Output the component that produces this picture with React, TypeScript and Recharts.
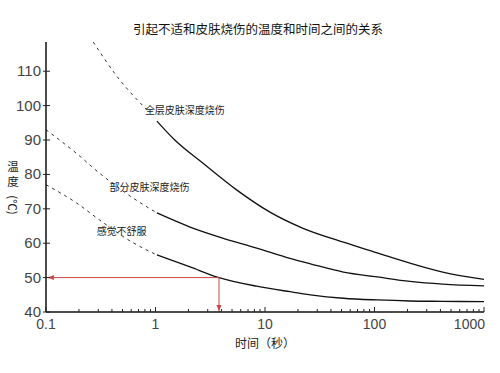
import { Label, Line, LineChart, ReferenceDot, XAxis, YAxis } from "recharts";

const title = "引起不适和皮肤烧伤的温度和时间之间的关系";
const xTitle = "时间（秒）";
const yTitleChars = ["温", "度"];
const yUnit = "(℃)";

const decadeTicks = [0.1, 1, 10, 100, 1000];
const minorSteps = [2, 3, 4, 5, 6, 7, 8, 9];
const tempTicks = [40, 50, 60, 70, 80, 90, 100, 110];

// 全层皮肤深度烧伤
const fullDashedTime = [0.27, 0.45, 0.84];
const fullDashedTemp = [118.5, 108.3, 98.7];
const fullTime = [1.03, 1.5, 2.7, 5.5, 11, 22, 52, 106, 211, 420, 1000];
const fullTemp = [95.5, 90, 83.3, 75.5, 69.1, 64.4, 60.3, 57.2, 54.2, 51.6, 49.5];

// 部分皮肤深度烧伤
const partDashedTime = [0.1, 0.19, 0.31, 0.62, 1.03];
const partDashedTemp = [93, 86.1, 80.3, 73.2, 68.8];
const partTime = [1.03, 2.07, 4.1, 8.4, 16.9, 26, 52, 106, 211, 420, 1000];
const partTemp = [68.8, 64.7, 61.5, 58.6, 55.6, 54.0, 51.6, 50.2, 48.9, 48.1, 47.6];

// 感觉不舒服
const painDashedTime = [0.1, 0.19, 0.31, 0.62, 1.03];
const painDashedTemp = [77, 71.7, 66.7, 60.2, 56.6];
const painTime = [1.03, 2.07, 3.8, 8.4, 16.9, 26, 52, 106, 211, 420, 1000];
const painTemp = [56.6, 53.1, 50.0, 47.5, 45.9, 45.0, 44.0, 43.5, 43.2, 43.1, 43.0];

// red marker: 50℃ -> ~4 s
const markTime = [0.104, 3.8, 3.8];
const markTemp = [50, 50, 40];

const toPoints = (ts: number[], vs: number[]) =>
  ts.map((t, i) => ({ t, v: vs[i] }));

const xTicks = [
  ...decadeTicks,
  ...decadeTicks
    .slice(0, -1)
    .flatMap((d) => minorSteps.map((s) => +(d * s).toFixed(1))),
].sort((a, b) => a - b);

const numFont = "'Liberation Sans', Arial, sans-serif";
const cjkFont = "'Noto Sans CJK SC', sans-serif";

const XTick = (props: any) => {
  const { x, y, payload } = props;
  const major = decadeTicks.includes(payload.value);
  const last = payload.value === 1000;
  return (
    <g>
      <line x1={x} x2={x} y1={y} y2={y - (major ? 5 : 3)} stroke="#222" strokeWidth={1} />
      {major && (
        <text
          x={last ? x + 1 : x}
          y={y + 17}
          textAnchor={last ? "end" : "middle"}
          fontSize={14}
          fontFamily={numFont}
          fill="#444"
        >
          {payload.value}
        </text>
      )}
    </g>
  );
};

const YTick = (props: any) => {
  const { x, y, payload } = props;
  return (
    <g>
      <line x1={x - 3} x2={x + 4} y1={y} y2={y} stroke="#222" strokeWidth={1} />
      <text
        x={x - 5}
        y={y + 5}
        textAnchor="end"
        fontSize={15}
        fontFamily={numFont}
        fill="#444"
      >
        {payload.value}
      </text>
    </g>
  );
};

const arrowDot = (props: any) => {
  const { cx, cy, index } = props;
  if (index === 0)
    return (
      <path key={index} d={`M${cx},${cy}L${cx + 6},${cy - 2.5}L${cx + 6},${cy + 2.5}Z`} fill="#cc4444" />
    );
  if (index === 2)
    return (
      <path key={index} d={`M${cx},${cy - 1}L${cx - 2.5},${cy - 7}L${cx + 2.5},${cy - 7}Z`} fill="#cc4444" />
    );
  return <g key={index} />;
};

const curveLabel = (value: string) => ({
  value,
  position: "right" as const,
  offset: 0,
  fontSize: 10,
  fill: "#222",
  fontFamily: cjkFont,
});

const yLabelStyle = {
  position: "absolute" as const,
  left: 0,
  width: 26,
  height: 14,
  textAlign: "center" as const,
  fontSize: 11.5,
  lineHeight: "14px",
  fontFamily: cjkFont,
  color: "#222",
};

export default function App() {
  return (
    <div
      style={{
        position: "absolute",
        left: 0,
        top: 0,
        width: 500,
        height: 373,
        background: "#fff",
      }}
    >
      <div
        style={{
          position: "absolute",
          top: 21,
          left: 8,
          width: 500,
          textAlign: "center",
          fontSize: 12.5,
          lineHeight: "16px",
          fontFamily: cjkFont,
          color: "#111",
        }}
      >
        {title}
      </div>

      {yTitleChars.map((c, i) => (
        <div key={c} style={{ ...yLabelStyle, top: 159 + i * 15 }}>
          {c}
        </div>
      ))}
      <div
        style={{
          ...yLabelStyle,
          top: 198,
          transform: "rotate(90deg)",
        }}
      >
        {yUnit}
      </div>

      <LineChart
        width={500}
        height={373}
        margin={{ top: 42, right: 16, bottom: 31, left: 6 }}
      >
        <XAxis
          dataKey="t"
          type="number"
          scale="log"
          domain={[0.1, 1000]}
          allowDataOverflow
          ticks={xTicks}
          interval={0}
          height={30}
          tickSize={0}
          tickMargin={0}
          tickLine={false}
          tick={<XTick />}
          axisLine={{ stroke: "#111", strokeWidth: 1.5 }}
        >
          <Label
            content={(p: any) => (
              <text
                x={p.viewBox.x + p.viewBox.width / 2}
                y={p.viewBox.y + 36}
                textAnchor="middle"
                fontSize={12}
                fontFamily={cjkFont}
                fill="#222"
              >
                {xTitle}
              </text>
            )}
          />
        </XAxis>

        <YAxis
          type="number"
          domain={[40, 118.5]}
          allowDataOverflow
          ticks={tempTicks}
          width={40}
          tickSize={0}
          tickMargin={0}
          tickLine={false}
          tick={<YTick />}
          axisLine={{ stroke: "#111", strokeWidth: 1.5 }}
        />

        <Line data={toPoints(fullDashedTime, fullDashedTemp)} dataKey="v" type="monotone" stroke="#333" strokeWidth={1} strokeDasharray="3 4" dot={false} isAnimationActive={false} />
        <Line data={toPoints(fullTime, fullTemp)} dataKey="v" type="monotone" stroke="#111" strokeWidth={1.3} dot={false} isAnimationActive={false} />

        <Line data={toPoints(partDashedTime, partDashedTemp)} dataKey="v" type="monotone" stroke="#333" strokeWidth={1} strokeDasharray="3 4" dot={false} isAnimationActive={false} />
        <Line data={toPoints(partTime, partTemp)} dataKey="v" type="monotone" stroke="#111" strokeWidth={1.3} dot={false} isAnimationActive={false} />

        <Line data={toPoints(painDashedTime, painDashedTemp)} dataKey="v" type="monotone" stroke="#333" strokeWidth={1} strokeDasharray="3 4" dot={false} isAnimationActive={false} />
        <Line data={toPoints(painTime, painTemp)} dataKey="v" type="monotone" stroke="#111" strokeWidth={1.3} dot={false} isAnimationActive={false} />

        <Line data={toPoints(markTime, markTemp)} dataKey="v" type="linear" stroke="#cc4444" strokeWidth={1} dot={arrowDot} isAnimationActive={false} />

        <ReferenceDot x={0.8} y={98.7} r={0} fill="none" stroke="none" label={curveLabel("全层皮肤深度烧伤")} />
        <ReferenceDot x={0.38} y={76.3} r={0} fill="none" stroke="none" label={curveLabel("部分皮肤深度烧伤")} />
        <ReferenceDot x={0.29} y={63.3} r={0} fill="none" stroke="none" label={curveLabel("感觉不舒服")} />
      </LineChart>
    </div>
  );
}
